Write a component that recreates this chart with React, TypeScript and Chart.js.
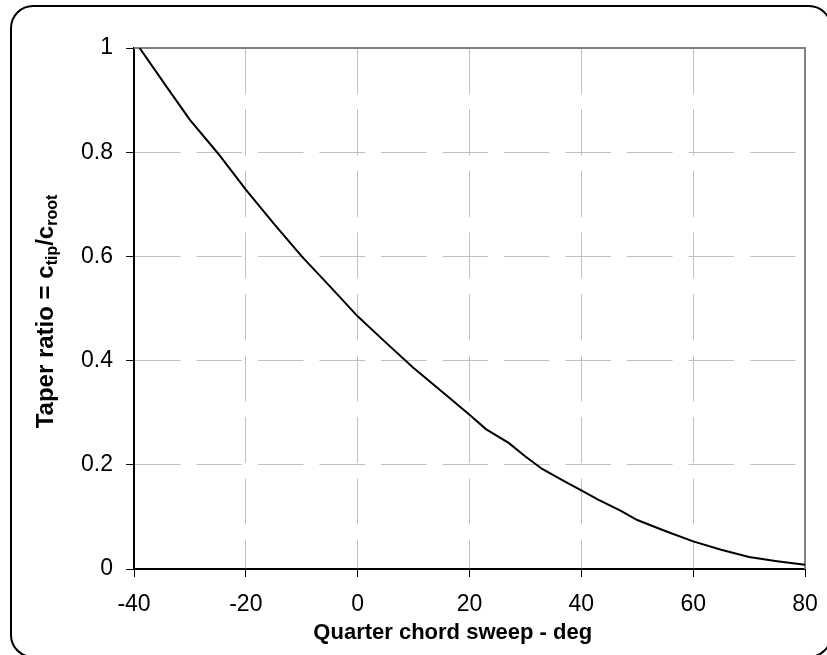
import React, { useEffect, useRef } from "react";
import { Chart, registerables } from "chart.js";

Chart.register(...registerables);

// ---- data ----
const sweepDeg = [-39, -34, -30, -25, -20, -15, -10, -5, 0, 5, 10, 15, 20, 23, 27, 30, 33, 37, 40, 43, 47, 50, 55, 60, 65, 70, 75, 80];
const taperRatio = [1.0, 0.923, 0.862, 0.798, 0.728, 0.663, 0.6, 0.543, 0.485, 0.435, 0.386, 0.341, 0.296, 0.268, 0.242, 0.216, 0.192, 0.168, 0.151, 0.133, 0.112, 0.094, 0.073, 0.053, 0.037, 0.023, 0.015, 0.008];

const xMin = -40;
const xMax = 80;
const xStep = 20;
const yMin = 0;
const yMax = 1;
const yStep = 0.2;

const xTitle = "Quarter chord sweep - deg";
const yTitleParts = [
  { text: "Taper ratio = c", sub: false },
  { text: "tip", sub: true },
  { text: "/c", sub: false },
  { text: "root", sub: true },
];

const FONT = "'Liberation Sans', Arial, Helvetica, sans-serif";

const framePlugin = {
  id: "frameAndTitles",
  beforeDraw(chart: any) {
    const { ctx } = chart;
    ctx.save();
    ctx.fillStyle = "#ffffff";
    ctx.fillRect(0, 0, chart.width, chart.height);
    // outer rounded frame
    const l = 11, t = 6, r = 831, b = 657, rad = 22;
    ctx.beginPath();
    ctx.moveTo(l + rad, t);
    ctx.lineTo(r - rad, t);
    ctx.arcTo(r, t, r, t + rad, rad);
    ctx.lineTo(r, b - rad);
    ctx.arcTo(r, b, r - rad, b, rad);
    ctx.lineTo(l + rad, b);
    ctx.arcTo(l, b, l, b - rad, rad);
    ctx.lineTo(l, t + rad);
    ctx.arcTo(l, t, l + rad, t, rad);
    ctx.closePath();
    ctx.lineWidth = 2;
    ctx.strokeStyle = "#000000";
    ctx.stroke();
    ctx.restore();
  },
  beforeDatasetsDraw(chart: any) {
    const { ctx, chartArea } = chart;
    ctx.save();
    ctx.strokeStyle = "#808080";
    ctx.lineWidth = 2;
    ctx.beginPath();
    ctx.moveTo(chartArea.left, chartArea.top);
    ctx.lineTo(chartArea.right, chartArea.top);
    ctx.lineTo(chartArea.right, chartArea.bottom);
    ctx.stroke();
    ctx.restore();
  },
  afterDraw(chart: any) {
    const { ctx, chartArea } = chart;
    ctx.save();
    ctx.fillStyle = "#000000";

    // x-axis title
    ctx.font = `bold 22px ${FONT}`;
    ctx.textAlign = "center";
    ctx.textBaseline = "alphabetic";
    ctx.fillText(xTitle, chartArea.left + (chartArea.right - chartArea.left) * 0.475, 639);

    // y-axis title with subscripts
    const mainSize = 24;
    const subSize = 16;
    const subShift = 4;
    ctx.textAlign = "left";
    let total = 0;
    const widths = yTitleParts.map((p) => {
      ctx.font = `bold ${p.sub ? subSize : mainSize}px ${FONT}`;
      const w = ctx.measureText(p.text).width;
      total += w;
      return w;
    });
    const cy = (chartArea.top + chartArea.bottom) / 2 + 3;
    const baseX = 53;
    ctx.translate(baseX, cy);
    ctx.rotate(-Math.PI / 2);
    let x = -total / 2;
    yTitleParts.forEach((p, i) => {
      ctx.font = `bold ${p.sub ? subSize : mainSize}px ${FONT}`;
      ctx.fillText(p.text, x, p.sub ? subShift : 0);
      x += widths[i];
    });
    ctx.restore();
  },
};

const fmt = (v: number) => String(Math.round(v * 1000) / 1000);

export default function App() {
  const canvasRef = useRef<HTMLCanvasElement | null>(null);

  useEffect(() => {
    if (!canvasRef.current) return;
    const chart = new Chart(canvasRef.current, {
      type: "scatter",
      data: {
        datasets: [
          {
            data: sweepDeg.map((x, i) => ({ x, y: taperRatio[i] })),
            showLine: true,
            borderColor: "#000000",
            borderWidth: 2,
            pointRadius: 0,
            pointHoverRadius: 0,
            tension: 0,
            fill: false,
          },
        ],
      },
      options: {
        animation: false,
        responsive: false,
        devicePixelRatio: 1,
        events: [],
        layout: { padding: { left: 0, top: 48, right: 22, bottom: 0 } },
        plugins: {
          legend: { display: false },
          tooltip: { enabled: false },
          title: { display: false },
        },
        scales: {
          x: {
            type: "linear",
            position: "bottom",
            min: xMin,
            max: xMax,
            afterFit: (scale: any) => {
              scale.height = 86;
              scale.paddingRight = 0;
              scale.paddingLeft = 0;
            },
            ticks: {
              stepSize: xStep,
              color: "#000000",
              font: { family: FONT, size: 23 },
              padding: 14,
              maxRotation: 0,
              callback: (v: any) => fmt(Number(v)),
            },
            grid: {
              color: "#c0c0c0",
              lineWidth: 1,
              tickColor: "#000000",
              tickLength: 8,
              tickWidth: 1,
            },
            border: {
              display: true,
              color: "#000000",
              width: 2,
              dash: [46, 15.5],
            },
            title: { display: false },
          },
          y: {
            type: "linear",
            min: yMin,
            max: yMax,
            afterFit: (scale: any) => {
              scale.width = 134;
            },
            ticks: {
              stepSize: yStep,
              color: "#000000",
              font: { family: FONT, size: 23 },
              padding: 13,
              callback: (v: any) => fmt(Number(v)),
            },
            grid: {
              color: "#c0c0c0",
              lineWidth: 1,
              tickColor: "#000000",
              tickLength: 8,
              tickWidth: 1,
            },
            border: {
              display: true,
              color: "#000000",
              width: 2,
              dash: [45.5, 16],
            },
          },
        },
      },
      plugins: [framePlugin],
    });
    return () => {
      chart.destroy();
    };
  }, []);

  return (
    <div style={{ position: "fixed", left: 0, top: 0, width: 827, height: 655, background: "#fff" }}>
      <canvas ref={canvasRef} width={827} height={655} style={{ display: "block" }} />
    </div>
  );
}
